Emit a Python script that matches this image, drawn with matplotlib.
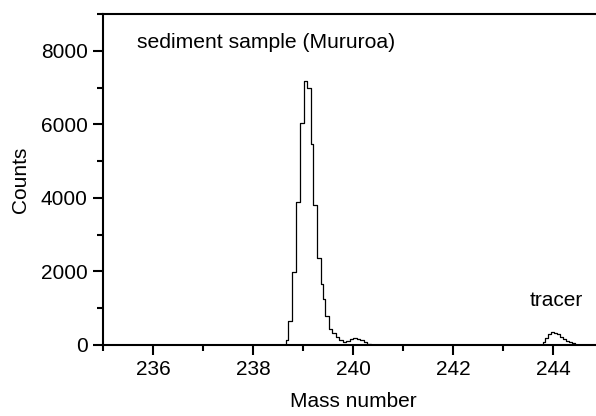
import matplotlib.pyplot as plt
import numpy as np

plt.rcParams['font.family'] = ['Liberation Sans', 'DejaVu Sans']

# bin edges (mass number) and counts
edges_main = [238.65, 238.70, 238.78, 238.86, 238.94, 239.01, 239.07, 239.15,
              239.20, 239.27, 239.35, 239.40, 239.44, 239.51, 239.58, 239.65,
              239.72, 239.79, 239.86, 239.93, 240.00, 240.07, 240.14, 240.21,
              240.28, 240.35]
counts_main = [140, 650, 1990, 3900, 6030, 7170, 6980, 5470, 3800, 2360,
               1670, 1250, 780, 430, 330, 230, 140, 95, 120, 160, 180, 170,
               140, 95, 40]

edges_tracer = [243.73, 243.79, 243.84, 243.90, 243.96, 244.02, 244.08,
                244.14, 244.20, 244.26, 244.32, 244.38, 244.44]
counts_tracer = [80, 180, 310, 345, 330, 290, 230, 170, 120, 80, 45, 15]

# pad with zero baseline on both sides
x = np.concatenate([[235.0], edges_main, edges_tracer, [245.0]])
y = np.concatenate([[0], counts_main, [0], [0], counts_tracer, [0]])

fig = plt.figure(figsize=(5.96, 4.16), dpi=100)
ax = fig.add_axes([103 / 596, 1 - 345 / 416, 500 / 596, 331 / 416])

ax.step(x[:-1], y[:-1], where='post', color='black', lw=0.9)
ax.plot([235, 245], [0, 0], color='black', lw=0.9)

ax.set_xlim(235, 245)
ax.set_ylim(0, 9000)
ax.set_xticks([236, 238, 240, 242, 244])
ax.set_xticks(np.arange(235, 246, 1), minor=True)
ax.set_yticks([0, 2000, 4000, 6000, 8000])
ax.set_yticks(np.arange(0, 9001, 1000), minor=True)
ax.tick_params(which='major', direction='out', length=7.5, width=1.5, labelsize=15)
ax.tick_params(which='minor', direction='out', length=4, width=1.5)
for side in ['left', 'bottom', 'top']:
    ax.spines[side].set_linewidth(1.5)
ax.spines['right'].set_visible(False)

ax.set_xlabel('Mass number', fontsize=15, labelpad=9)
ax.set_ylabel('Counts', fontsize=15, labelpad=8)

ax.text(235.68, 8220, 'sediment sample (Mururoa)', fontsize=15.2, va='center')
ax.text(243.54, 1220, 'tracer', fontsize=15, va='center')

fig.savefig('out.png', dpi=100)
